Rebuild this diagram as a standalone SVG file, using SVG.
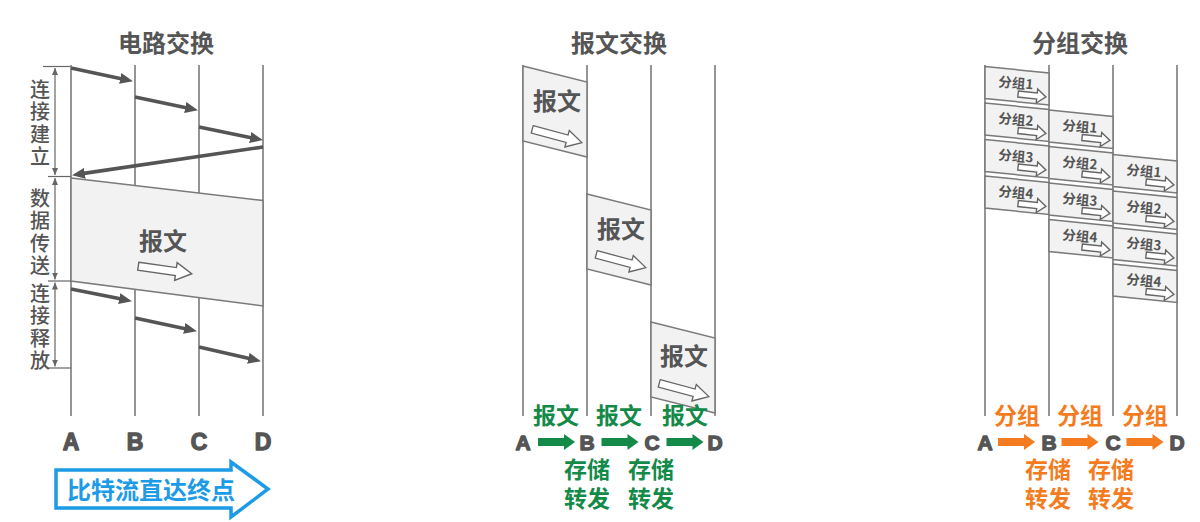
<svg xmlns="http://www.w3.org/2000/svg" width="1200" height="522" viewBox="0 0 1200 522">
<style>
.bg{fill:#ffffff}
.tl{stroke:#7a7a7a;stroke-width:1.6;fill:none}
.title{font-family:"Liberation Sans","Noto Sans CJK SC",sans-serif;font-weight:700;font-size:24px;fill:#555;text-anchor:middle}
.node{font-family:"Liberation Sans",sans-serif;font-weight:700;fill:#555;stroke:#555;stroke-width:1.3;stroke-linejoin:round;text-anchor:middle}
.vl{font-family:"Noto Sans CJK SC",sans-serif;font-weight:500;font-size:20px;fill:#555;writing-mode:vertical-rl;text-orientation:upright;letter-spacing:2.5px}
.box{fill:#f2f2f2;stroke:#7a7a7a;stroke-width:1.5}
.bt{font-family:"Noto Sans CJK SC",sans-serif;font-weight:700;font-size:24px;fill:#555;text-anchor:middle}
.pt{font-family:"Noto Sans CJK SC",sans-serif;font-weight:700;font-size:13.5px;fill:#555}
.hollow{fill:#ffffff;stroke:#666;stroke-width:1.4}
.thick{stroke:#555;stroke-width:3.6;fill:none}
.thin{stroke:#666;stroke-width:1.2;fill:none}
.green{font-family:"Noto Sans CJK SC",sans-serif;font-weight:700;font-size:23px;fill:#138a48;text-anchor:middle}
.orange{font-family:"Noto Sans CJK SC",sans-serif;font-weight:700;font-size:23px;fill:#f47b20;text-anchor:middle}
.ga{fill:#138a48}
.oa{fill:#f47b20}
.blue{font-family:"Noto Sans CJK SC",sans-serif;font-weight:700;font-size:24px;fill:#1e9be6}
</style>
<defs>
<marker id="ah" markerUnits="userSpaceOnUse" markerWidth="13" markerHeight="11" refX="1" refY="5.5" orient="auto">
<path d="M0,0 L13,5.5 L0,11 z" fill="#555"/>
</marker>
<marker id="sa" markerUnits="userSpaceOnUse" markerWidth="7" markerHeight="6" refX="7" refY="3" orient="auto-start-reverse">
<path d="M0,0 L7,3 L0,6 z" fill="#666"/>
</marker>
<path id="ha" d="M-27,-4 L11,-4 L11,-9 L27,0 L11,9 L11,4 L-27,4 Z"/>
<path id="hs" d="M-14,-3 L5,-3 L5,-7 L14,0 L5,7 L5,3 L-14,3 Z"/>
<path id="sol" d="M-18.5,-4 L7.5,-4 L7.5,-8 L18.5,0 L7.5,8 L7.5,4 L-18.5,4 Z"/>
</defs>
<rect class="bg" x="0" y="0" width="1200" height="522"/>

<!-- ===== Circuit switching ===== -->
<g id="circuit">
<text class="title" x="166" y="52">电路交换</text>
<g id="circuit-timelines">
<line class="tl" x1="71" y1="65" x2="71" y2="416"/>
<line class="tl" x1="135" y1="65" x2="135" y2="416"/>
<line class="tl" x1="199" y1="65" x2="199" y2="416"/>
<line class="tl" x1="263" y1="65" x2="263" y2="416"/>
</g>
<g id="circuit-data">
<polygon class="box" points="71,178 263,200.5 263,306 71,281"/>
<text class="bt" x="163" y="250">报文</text>
<use href="#ha" class="hollow" transform="translate(165,270) rotate(8)"/>
</g>
<g id="circuit-phases">
<line class="thin" x1="43" y1="66.5" x2="70" y2="66.5"/>
<line class="thin" x1="48" y1="176.5" x2="71" y2="176.5"/>
<line class="thin" x1="48" y1="281" x2="71" y2="281"/>
<line class="thin" x1="48" y1="368" x2="71" y2="368"/>
<line class="thin" x1="55" y1="68" x2="55" y2="175" marker-start="url(#sa)" marker-end="url(#sa)"/>
<line class="thin" x1="55" y1="178" x2="55" y2="279.5" marker-start="url(#sa)" marker-end="url(#sa)"/>
<line class="thin" x1="55" y1="282.5" x2="55" y2="366.5" marker-start="url(#sa)" marker-end="url(#sa)"/>
<text class="vl" x="40" y="79">连接建立</text>
<text class="vl" x="40" y="188">数据传送</text>
<text class="vl" x="40" y="283">连接释放</text>
</g>
<g id="circuit-nodes">
<text class="node" font-size="23" x="71" y="450">A</text>
<text class="node" font-size="23" x="135" y="450">B</text>
<text class="node" font-size="23" x="199" y="450">C</text>
<text class="node" font-size="23" x="263" y="450">D</text>
</g>
<g id="bitstream">
<path d="M56,470 L231,470 L231,462 L268,489 L231,517 L231,508 L56,508 Z" fill="#fff" stroke="#1e9be6" stroke-width="3.5" stroke-linejoin="miter"/>
<text class="blue" x="67" y="499">比特流直达终点</text>
</g>
</g>
<g id="circuit-connectors">
<line class="thick" x1="71" y1="68" x2="121.2" y2="78.7" marker-end="url(#ah)"/>
<line class="thick" x1="135" y1="97" x2="186.2" y2="107.7" marker-end="url(#ah)"/>
<line class="thick" x1="199" y1="127" x2="251.2" y2="137.7" marker-end="url(#ah)"/>
<line class="thick" x1="263" y1="147" x2="83.9" y2="173.4" marker-end="url(#ah)"/>
<line class="thick" x1="71" y1="289" x2="120.2" y2="298.8" marker-end="url(#ah)"/>
<line class="thick" x1="135" y1="318" x2="185.2" y2="328.7" marker-end="url(#ah)"/>
<line class="thick" x1="199" y1="347" x2="249.3" y2="358.5" marker-end="url(#ah)"/>
</g>

<!-- ===== Message switching ===== -->
<g id="message">
<text class="title" x="619" y="52">报文交换</text>
<g id="message-timelines">
<line class="tl" x1="523" y1="65" x2="523" y2="416"/>
<line class="tl" x1="587" y1="65" x2="587" y2="416"/>
<line class="tl" x1="651" y1="65" x2="651" y2="416"/>
<line class="tl" x1="715" y1="65" x2="715" y2="416"/>
</g>
<g id="msg1">
<polygon class="box" points="523,66 587,82 587,157 523,141"/>
<text class="bt" x="557" y="110">报文</text>
<use href="#ha" class="hollow" transform="translate(557,136) rotate(15) scale(0.95)"/>
</g>
<g id="msg2">
<polygon class="box" points="587,194 651,210 651,285 587,269"/>
<text class="bt" x="621" y="238">报文</text>
<use href="#ha" class="hollow" transform="translate(621,261) rotate(15) scale(0.95)"/>
</g>
<g id="msg3">
<polygon class="box" points="651,322 715,338 715,413 651,397"/>
<text class="bt" x="684" y="365">报文</text>
<use href="#ha" class="hollow" transform="translate(684,390) rotate(15) scale(0.95)"/>
</g>
<g id="message-nodes">
<text class="green" x="556" y="424">报文</text>
<text class="green" x="619" y="424">报文</text>
<text class="green" x="685" y="424">报文</text>
<text class="node" font-size="21" x="523" y="450">A</text>
<text class="node" font-size="21" x="587" y="450">B</text>
<text class="node" font-size="21" x="652" y="450">C</text>
<text class="node" font-size="21" x="715" y="450">D</text>
<use href="#sol" class="ga" transform="translate(556.5,442)"/>
<use href="#sol" class="ga" transform="translate(620,442)"/>
<use href="#sol" class="ga" transform="translate(685,442)"/>
<text class="green" x="587" y="478"><tspan x="587" y="478">存储</tspan><tspan x="587" y="507">转发</tspan></text>
<text class="green" x="651" y="478"><tspan x="651" y="478">存储</tspan><tspan x="651" y="507">转发</tspan></text>
</g>
</g>

<!-- ===== Packet switching ===== -->
<g id="packet">
<text class="title" x="1080" y="52">分组交换</text>
<g id="packet-timelines">
<line class="tl" x1="985" y1="65" x2="985" y2="416"/>
<line class="tl" x1="1049" y1="65" x2="1049" y2="416"/>
<line class="tl" x1="1113" y1="65" x2="1113" y2="416"/>
<line class="tl" x1="1177" y1="65" x2="1177" y2="416"/>
</g>
<g id="pA1"><polygon class="box" points="985,66.5 1049,73 1049,105 985,98.5"/><text class="pt" x="998" y="86.5" transform="rotate(5 998 86.5)">分组1</text><use href="#hs" class="hollow" transform="translate(1032,95.5) rotate(6)"/></g>
<g id="pA2"><polygon class="box" points="985,103 1049,109.5 1049,141.5 985,135"/><text class="pt" x="998" y="123" transform="rotate(5 998 123)">分组2</text><use href="#hs" class="hollow" transform="translate(1032,132) rotate(6)"/></g>
<g id="pA3"><polygon class="box" points="985,139.5 1049,146 1049,178 985,171.5"/><text class="pt" x="998" y="159.5" transform="rotate(5 998 159.5)">分组3</text><use href="#hs" class="hollow" transform="translate(1032,168.5) rotate(6)"/></g>
<g id="pA4"><polygon class="box" points="985,176 1049,182.5 1049,214.5 985,208"/><text class="pt" x="998" y="196" transform="rotate(5 998 196)">分组4</text><use href="#hs" class="hollow" transform="translate(1032,205) rotate(6)"/></g>

<g id="pB1"><polygon class="box" points="1049,110 1113,116.5 1113,148.5 1049,142"/><text class="pt" x="1062" y="130" transform="rotate(5 1062 130)">分组1</text><use href="#hs" class="hollow" transform="translate(1096,139) rotate(6)"/></g>
<g id="pB2"><polygon class="box" points="1049,146.5 1113,153 1113,185 1049,178.5"/><text class="pt" x="1062" y="166.5" transform="rotate(5 1062 166.5)">分组2</text><use href="#hs" class="hollow" transform="translate(1096,175.5) rotate(6)"/></g>
<g id="pB3"><polygon class="box" points="1049,183 1113,189.5 1113,221.5 1049,215"/><text class="pt" x="1062" y="203" transform="rotate(5 1062 203)">分组3</text><use href="#hs" class="hollow" transform="translate(1096,212) rotate(6)"/></g>
<g id="pB4"><polygon class="box" points="1049,219.5 1113,226 1113,258 1049,251.5"/><text class="pt" x="1062" y="239.5" transform="rotate(5 1062 239.5)">分组4</text><use href="#hs" class="hollow" transform="translate(1096,248.5) rotate(6)"/></g>

<g id="pC1"><polygon class="box" points="1113,154.5 1177,161 1177,193 1113,186.5"/><text class="pt" x="1126" y="174.5" transform="rotate(5 1126 174.5)">分组1</text><use href="#hs" class="hollow" transform="translate(1160,183.5) rotate(6)"/></g>
<g id="pC2"><polygon class="box" points="1113,191 1177,197.5 1177,229.5 1113,223"/><text class="pt" x="1126" y="211" transform="rotate(5 1126 211)">分组2</text><use href="#hs" class="hollow" transform="translate(1160,220) rotate(6)"/></g>
<g id="pC3"><polygon class="box" points="1113,227.5 1177,234 1177,266 1113,259.5"/><text class="pt" x="1126" y="247.5" transform="rotate(5 1126 247.5)">分组3</text><use href="#hs" class="hollow" transform="translate(1160,256.5) rotate(6)"/></g>
<g id="pC4"><polygon class="box" points="1113,264 1177,270.5 1177,302.5 1113,296"/><text class="pt" x="1126" y="284" transform="rotate(5 1126 284)">分组4</text><use href="#hs" class="hollow" transform="translate(1160,293) rotate(6)"/></g>

<g id="packet-nodes">
<text class="orange" x="1017" y="424">分组</text>
<text class="orange" x="1080" y="424">分组</text>
<text class="orange" x="1145" y="424">分组</text>
<text class="node" font-size="21" x="985" y="450">A</text>
<text class="node" font-size="21" x="1049" y="450">B</text>
<text class="node" font-size="21" x="1113" y="450">C</text>
<text class="node" font-size="21" x="1177" y="450">D</text>
<use href="#sol" class="oa" transform="translate(1016.5,442)"/>
<use href="#sol" class="oa" transform="translate(1080,442)"/>
<use href="#sol" class="oa" transform="translate(1145,442)"/>
<text class="orange" x="1048" y="478"><tspan x="1048" y="478">存储</tspan><tspan x="1048" y="507">转发</tspan></text>
<text class="orange" x="1111" y="478"><tspan x="1111" y="478">存储</tspan><tspan x="1111" y="507">转发</tspan></text>
</g>
</g>
</svg>
